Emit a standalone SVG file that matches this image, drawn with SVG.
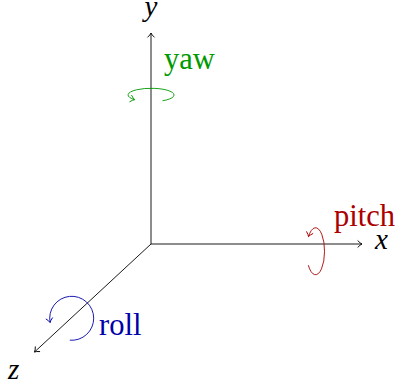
<svg xmlns="http://www.w3.org/2000/svg" width="395" height="388" viewBox="0 0 395 388">
  <defs>
    <style>
      .axis { stroke: #000; stroke-width: 0.9; fill: none; }
      .lbl { font-family: "Liberation Serif", "Times New Roman", serif; font-style: italic; font-size: 29px; fill: #000; }
      .rot { font-family: "Liberation Serif", "Times New Roman", serif; font-size: 30.5px; }
      .yaw { stroke: #009900; }
      .pitch { stroke: #aa0000; }
      .roll { stroke: #0000aa; }
      .arc { fill: none; stroke-width: 0.9; }
    </style>
    <marker id="ak" markerUnits="userSpaceOnUse" markerWidth="10" markerHeight="10" refX="0.5" refY="0" viewBox="-5 -5 10 10" orient="auto" overflow="visible">
      <path d="M -3.6 -3.2 Q -1.2 -0.6 0.5 0 Q -1.2 0.6 -3.6 3.2" fill="none" stroke="#000" stroke-width="0.9" stroke-linecap="round"/>
    </marker>
    <marker id="ag" markerUnits="userSpaceOnUse" markerWidth="10" markerHeight="10" refX="0.5" refY="0" viewBox="-5 -5 10 10" orient="auto" overflow="visible">
      <path d="M -3.6 -3.2 Q -1.2 -0.6 0.5 0 Q -1.2 0.6 -3.6 3.2" fill="none" stroke="#009900" stroke-width="0.9" stroke-linecap="round"/>
    </marker>
    <marker id="ar" markerUnits="userSpaceOnUse" markerWidth="10" markerHeight="10" refX="0.5" refY="0" viewBox="-5 -5 10 10" orient="auto" overflow="visible">
      <path d="M -3.6 -3.2 Q -1.2 -0.6 0.5 0 Q -1.2 0.6 -3.6 3.2" fill="none" stroke="#aa0000" stroke-width="0.9" stroke-linecap="round"/>
    </marker>
    <marker id="ab" markerUnits="userSpaceOnUse" markerWidth="10" markerHeight="10" refX="0.5" refY="0" viewBox="-5 -5 10 10" orient="auto" overflow="visible">
      <path d="M -3.6 -3.2 Q -1.2 -0.6 0.5 0 Q -1.2 0.6 -3.6 3.2" fill="none" stroke="#0000aa" stroke-width="0.9" stroke-linecap="round"/>
    </marker>
  </defs>

  <g id="connectors">
    <line class="axis" x1="151" y1="244" x2="151" y2="33" marker-end="url(#ak)"/>
    <line class="axis" x1="151" y1="244" x2="362" y2="244" marker-end="url(#ak)"/>
    <line class="axis" x1="151" y1="244" x2="34.5" y2="352" marker-end="url(#ak)"/>
  </g>

  <g id="axis-y">
    <text class="lbl" x="151" y="16" text-anchor="middle">y</text>
  </g>
  <g id="axis-x">
    <text class="lbl" x="375" y="249">x</text>
  </g>
  <g id="axis-z">
    <text class="lbl" x="8" y="379">z</text>
  </g>

  <g id="yaw">
    <path class="arc yaw" d="M 162.5 100.8 A 23 6.7 0 1 0 134.7 99.7" marker-end="url(#ag)"/>
    <text class="rot" x="164" y="69" fill="#009900">yaw</text>
  </g>

  <g id="pitch">
    <path class="arc pitch" d="M 308.3 265.2 A 9 23.5 0 1 0 308.5 236.6" marker-end="url(#ar)"/>
    <text class="rot" x="334" y="226" fill="#aa0000">pitch</text>
  </g>

  <g id="roll">
    <path class="arc roll" d="M 69.8 340.2 A 22 22 0 1 0 50.1 322.5" marker-end="url(#ab)"/>
    <text class="rot" x="99" y="335" fill="#0000aa">roll</text>
  </g>
</svg>
